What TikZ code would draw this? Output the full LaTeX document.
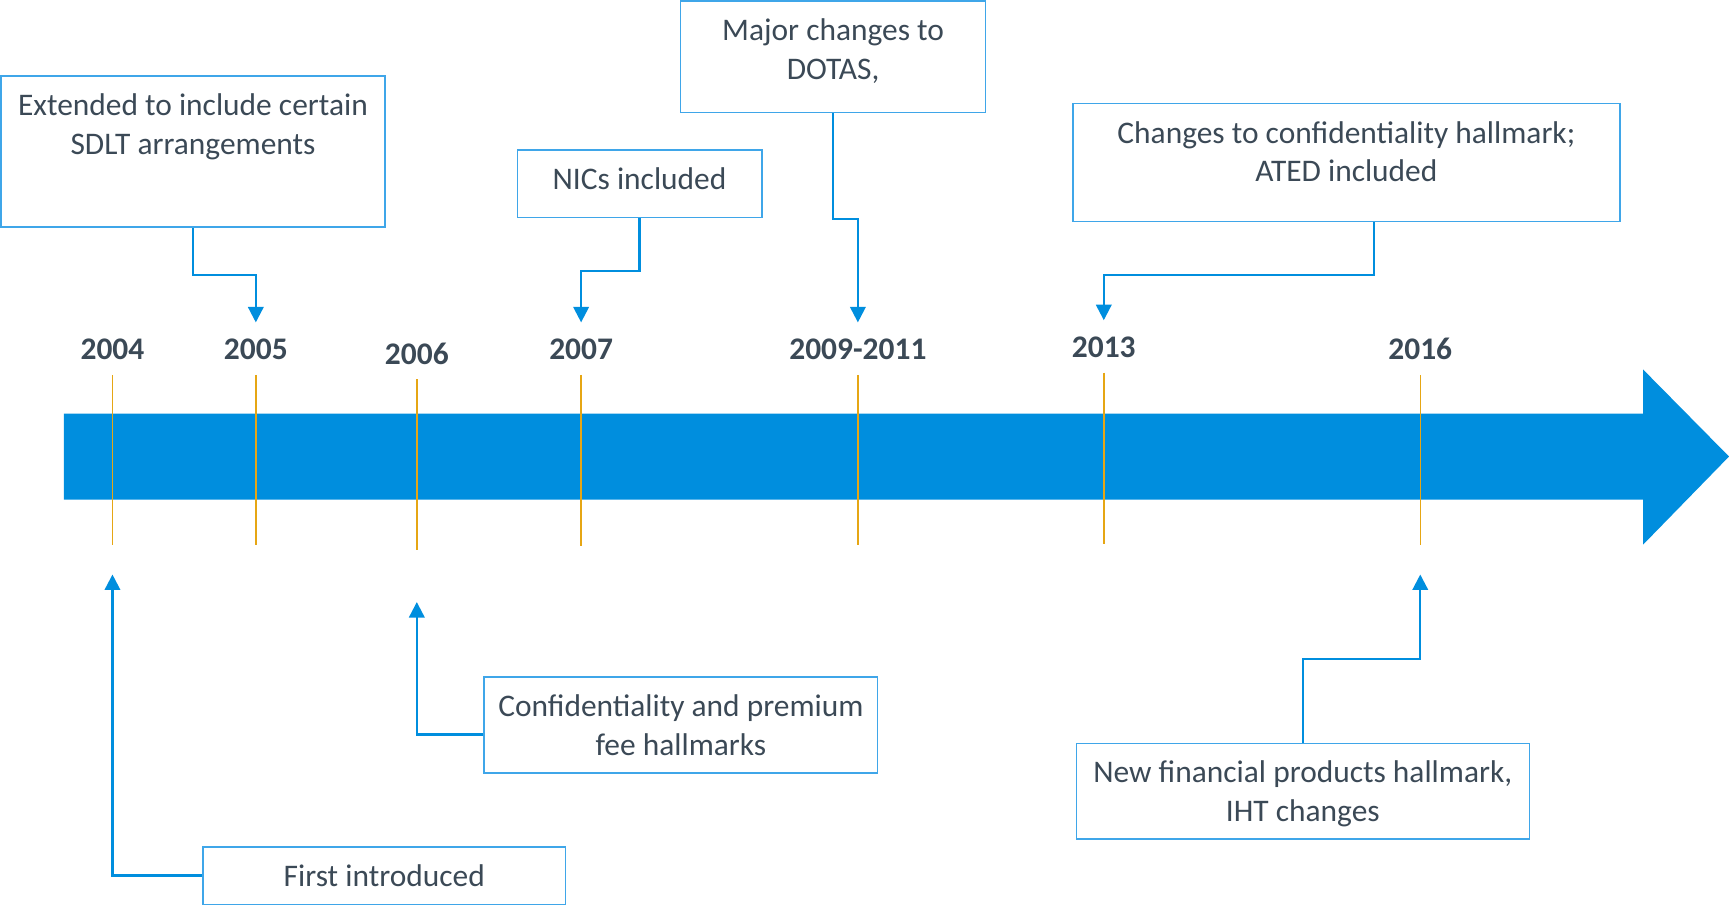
\documentclass[tikz,border=0pt]{standalone}
\usepackage{fontspec}
\setmainfont{Carlito}
\usetikzlibrary{arrows.meta}
\definecolor{barblue}{HTML}{008EDE}
\definecolor{boxblue}{HTML}{3FA6E9}
\definecolor{ticky}{HTML}{E6A614}
\definecolor{inkgray}{HTML}{3B4956}
\newcommand{\notetext}[3]{\parbox[c][#2pt][t]{#1pt}{\centering\rule{0pt}{36pt}#3}}
\tikzset{
    note/.style={draw=boxblue, line width=1.2pt, inner sep=0pt, text=inkgray},
    yearlbl/.style={font=\fontsize{28.5}{35}\selectfont\bfseries, text=inkgray, inner sep=0pt},
    tick/.style={draw=ticky, line width=1.3pt},
    conn/.style={draw=barblue, line width=2pt, -{Triangle[length=14pt,width=14pt]}},
}

\begin{document}
\begin{tikzpicture}[x=1pt, y=-1pt, font=\fontsize{28.5}{35}\selectfont]
        \useasboundingbox (0,0) rectangle (1568,820);

        % timeline bar
        \fill[barblue] (58,375) -- (1490,375) -- (1490,335) -- (1568,414) -- (1490,494) -- (1490,453) -- (58,453) -- cycle;

        % ticks
        \draw[tick] (102,340) -- (102,494);
        \draw[tick] (232,340) -- (232,494);
        \draw[tick] (378,344) -- (378,499);
        \draw[tick] (527,340) -- (527,495);
        \draw[tick] (778,340) -- (778,494);
        \draw[tick] (1001,338) -- (1001,493);
        \draw[tick] (1288,340) -- (1288,494);

        % years
        \node[yearlbl] (y2004) at (102,317) {2004};
        \node[yearlbl] (y2005) at (232,317) {2005};
        \node[yearlbl] (y2006) at (378,321) {2006};
        \node[yearlbl] (y2007) at (527,317) {2007};
        \node[yearlbl] (y2009) at (778,317) {2009-2011};
        \node[yearlbl] (y2013) at (1001,315) {2013};
        \node[yearlbl] (y2016) at (1288,316) {2016};

        % upper notes
        \node[note] (boxsdlt) at (175,137.5) {\notetext{348}{137}{Extended to include certain\\SDLT arrangements}};
        \node[note] (boxnics) at (580,166.5) {\notetext{222}{61}{NICs included}};
        \node[note] (boxdotas) at (755.5,51.5) {\notetext{277}{101}{Major changes to\\DOTAS,}};
        \node[note] (boxated) at (1221,147.5) {\notetext{496}{107}{Changes to confidentiality hallmark;\\ATED included}};

        % lower notes
        \node[note] (boxfirst) at (348.5,794) {\notetext{329}{52}{First introduced}};
        \node[note] (boxconf) at (617.5,657.5) {\notetext{357}{87}{Confidentiality and premium\\fee hallmarks}};
        \node[note] (boxnew) at (1181.5,717.5) {\notetext{411}{87}{New financial products hallmark,\\IHT changes}};

        % arrow ends below the bar
        \coordinate (in2004) at (102,521);
        \coordinate (in2006) at (378,546);
        \coordinate (in2016) at (1288,521);

        % upper connectors
        \draw[conn, shorten >=15pt] (boxsdlt.south) -- ++(0,43) -| (y2005.north);
        \draw[conn, shorten >=15pt] (boxnics.south) -- ++(0,48) -| (y2007.north);
        \draw[conn, shorten >=15pt] (boxdotas.south) -- ++(0,96) -| (y2009.north);
        \draw[conn, shorten >=15pt] ([xshift=25pt]boxated.south) -- ++(0,48) -| (y2013.north);

        % lower connectors
        \draw[conn] (boxfirst.west) -| (in2004);
        \draw[conn] ([yshift=-8.5pt]boxconf.west) -| (in2006);
        \draw[conn] (boxnew.north) -- ++(0,-76) -| (in2016);
    \end{tikzpicture}
\end{document}
